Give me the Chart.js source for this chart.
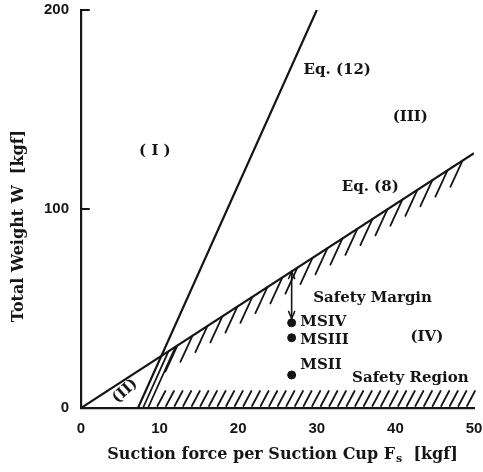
<!DOCTYPE html>
<html><head><meta charset="utf-8">
<script src="https://cdn.jsdelivr.net/npm/chart.js@4/dist/chart.umd.min.js"></script>
<style>html,body{margin:0;padding:0;background:#fff}#wrap{width:483px;height:472px}</style>
</head><body><div id="wrap"><canvas id="c" width="483" height="472"></canvas></div>
<script>
// ---- data ----
const xTicks = [0, 10, 20, 30, 40, 50];
const yTicks = [0, 100, 200];
const eq12F = [7.25, 30];
const eq12W = [0, 200];
const eq8F = [0, 50];
const eq8W = [0, 128];
const msNames = ['MSIV', 'MSIII', 'MSII'];
const msF = [26.8, 26.8, 26.8];
const msW = [42.8, 35.3, 16.6];
const marginF = 26.8;          // safety-margin arrow position
const marginTopW = 68.6;       // on Eq.(8)
const marginBottomW = 45;      // just above MSIV
const xTitle = 'Suction force per Suction Cup F';
const xTitleSub = 's';
const xTitleUnit = '  [kgf]';
const yTitle = 'Total Weight W  [kgf]';

// annotation texts with data-space anchors
const notes = [
  {t: 'Eq. (12)', f: 32.6, w: 170},
  {t: '(III)', f: 41.9, w: 146},
  {t: '( I )', f: 9.4, w: 129},
  {t: 'Eq. (8)', f: 36.8, w: 111},
  {t: 'Safety Margin', f: 37.1, w: 55.4},
  {t: '(IV)', f: 44.0, w: 35.8},
  {t: 'Safety Region', f: 41.9, w: 15.1}
];
const msLabelF = 27.9;
const msLabelW = [43.3, 34.3, 21.7];

const SERIF = 'bold 15px "DejaVu Serif", "Liberation Serif", serif';
const TITLE = 'bold 16px "DejaVu Serif", "Liberation Serif", serif';
const SUB = 'bold 11px "DejaVu Serif", "Liberation Serif", serif';
const INK = '#151515';

function pts(xs, ys) { return xs.map((x, i) => ({x: x, y: ys[i]})); }

function lineIntersect(p1, p2, p3, p4) {
  const d = (p1.x - p2.x) * (p3.y - p4.y) - (p1.y - p2.y) * (p3.x - p4.x);
  const a = p1.x * p2.y - p1.y * p2.x, b = p3.x * p4.y - p3.y * p4.x;
  return {x: (a * (p3.x - p4.x) - (p1.x - p2.x) * b) / d, y: (a * (p3.y - p4.y) - (p1.y - p2.y) * b) / d};
}

const decor = {
  id: 'decor',
  afterDatasetsDraw(chart) {
    const ctx = chart.ctx, xs = chart.scales.x, ys = chart.scales.y;
    const X = v => xs.getPixelForValue(v), Y = v => ys.getPixelForValue(v);
    ctx.save();
    ctx.strokeStyle = INK; ctx.fillStyle = INK; ctx.lineCap = 'round';
    // inward y ticks
    ctx.lineWidth = 2;
    yTicks.forEach(v => { if (v > 0) { ctx.beginPath(); ctx.moveTo(X(0), Y(v)); ctx.lineTo(X(0) + 8, Y(v)); ctx.stroke(); } });
    // hatching under Eq.(8)
    ctx.lineWidth = 1.8;
    const a8 = {x: X(eq8F[0]), y: Y(eq8W[0])}, b8 = {x: X(eq8F[1]), y: Y(eq8W[1])};
    const a12 = {x: X(eq12F[0]), y: Y(eq12W[0])}, b12 = {x: X(eq12F[1]), y: Y(eq12W[1])};
    const ip = lineIntersect(a8, b8, a12, b12);
    for (let px = ip.x + 16; px <= b8.x - 2; px += 15) {
      const t = (px - a8.x) / (b8.x - a8.x);
      const py = a8.y + t * (b8.y - a8.y);
      ctx.beginPath(); ctx.moveTo(px, py); ctx.lineTo(px - 12, py + 26); ctx.stroke();
    }
    // lines parallel to Eq.(12), from axis up to Eq.(8)
    [5, 10].forEach(d => {
      const p = {x: a12.x + d, y: a12.y}, q = {x: b12.x + d, y: b12.y};
      const top = lineIntersect(a8, b8, p, q);
      ctx.beginPath(); ctx.moveTo(p.x, p.y); ctx.lineTo(top.x, top.y); ctx.stroke();
    });
    // bottom strip hatching (safety region boundary)
    for (let px = ip.x - 4; px <= X(50) - 7; px += 8.6) {
      ctx.beginPath(); ctx.moveTo(px, Y(0) - 2); ctx.lineTo(px + 8, Y(0) - 17); ctx.stroke();
    }
    // safety margin double arrow
    const ax = X(marginF), y1 = Y(marginTopW), y2 = Y(marginBottomW);
    ctx.lineWidth = 1.6;
    ctx.beginPath(); ctx.moveTo(ax, y1); ctx.lineTo(ax, y2); ctx.stroke();
    ctx.beginPath(); ctx.moveTo(ax - 3, y1 + 7); ctx.lineTo(ax, y1); ctx.lineTo(ax + 3, y1 + 7); ctx.stroke();
    ctx.beginPath(); ctx.moveTo(ax - 3, y2 - 7); ctx.lineTo(ax, y2); ctx.lineTo(ax + 3, y2 - 7); ctx.stroke();
    // texts
    ctx.font = SERIF; ctx.textBaseline = 'middle'; ctx.textAlign = 'center';
    notes.forEach(n => ctx.fillText(n.t, X(n.f), Y(n.w)));
    ctx.textAlign = 'left';
    msNames.forEach((n, i) => ctx.fillText(n, X(msLabelF), Y(msLabelW[i])));
    // (II) rotated
    ctx.save(); ctx.translate(X(5.6), Y(8.5)); ctx.rotate(-Math.PI / 4.2);
    ctx.textAlign = 'center'; ctx.fillText('(II)', 0, 0); ctx.restore();
    // axis titles
    ctx.textAlign = 'left'; ctx.font = TITLE;
    const w1 = ctx.measureText(xTitle).width;
    ctx.font = SUB; const w2 = ctx.measureText(xTitleSub).width;
    ctx.font = TITLE; const w3 = ctx.measureText(xTitleUnit).width;
    let sx = 282 - (w1 + w2 + w3) / 2, sy = 455;
    ctx.fillText(xTitle, sx, sy);
    ctx.font = SUB; ctx.fillText(xTitleSub, sx + w1 + 1, sy + 4);
    ctx.font = TITLE; ctx.fillText(xTitleUnit, sx + w1 + w2 + 1, sy);
    ctx.save(); ctx.translate(19, 226); ctx.rotate(-Math.PI / 2);
    ctx.textAlign = 'center'; ctx.fillText(yTitle, 0, 0); ctx.restore();
    ctx.restore();
  }
};

new Chart(document.getElementById('c'), {
  type: 'scatter',
  data: {
    datasets: [
      {data: pts(eq12F, eq12W), showLine: true, borderColor: INK, borderWidth: 2.2, pointRadius: 0},
      {data: pts(eq8F, eq8W), showLine: true, borderColor: INK, borderWidth: 2.2, pointRadius: 0},
      {data: pts(msF, msW), showLine: false, backgroundColor: INK, borderColor: INK, pointRadius: 4}
    ]
  },
  options: {
    responsive: false, animation: false,
    layout: {padding: {top: 10, right: 0, left: 0, bottom: 0}},
    plugins: {legend: {display: false}, tooltip: {enabled: false}},
    scales: {
      x: {
        type: 'linear', min: 0, max: 50,
        afterBuildTicks: s => { s.ticks = xTicks.map(v => ({value: v})); },
        afterFit: s => { s.height = 64; s.paddingRight = 9; },
        grid: {display: false},
        border: {display: true, color: INK, width: 2.2},
        ticks: {color: INK, padding: 4, font: {family: '"Liberation Sans", Arial, sans-serif', size: 15, weight: 'bold'}}
      },
      y: {
        type: 'linear', min: 0, max: 200,
        afterBuildTicks: s => { s.ticks = yTicks.map(v => ({value: v})); },
        afterFit: s => { s.width = 81; s.paddingTop = 10; },
        grid: {display: false},
        border: {display: true, color: INK, width: 2.2},
        ticks: {color: INK, padding: 4, font: {family: '"Liberation Sans", Arial, sans-serif', size: 15, weight: 'bold'}}
      }
    }
  },
  plugins: [decor]
});
</script></body></html>
